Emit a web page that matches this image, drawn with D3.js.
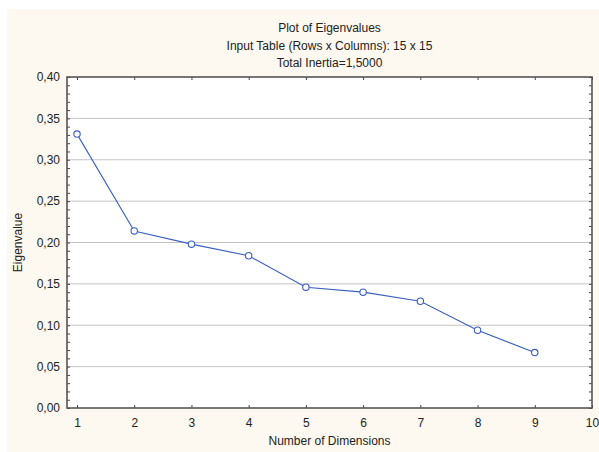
<!DOCTYPE html>
<html><head><meta charset="utf-8">
<script src="https://cdn.jsdelivr.net/npm/d3@7"></script>
<style>body{margin:0;background:#fff;} text{font-family:"Liberation Sans",Arial,sans-serif;fill:#222;}</style>
</head><body>
<svg id="c" width="599" height="452"></svg>
<script>
const dimensions = [1,2,3,4,5,6,7,8,9];
const eigenvalues = [0.331,0.214,0.198,0.184,0.146,0.140,0.129,0.094,0.067];
const xTicks = [1,2,3,4,5,6,7,8,9,10];
const yTicks = [0,0.05,0.10,0.15,0.20,0.25,0.30,0.35,0.40];
const titleLines = ["Plot of Eigenvalues","Input Table (Rows x Columns): 15 x 15","Total Inertia=1,5000"];

const svg = d3.select("#c");
svg.append("rect").attr("x",7).attr("y",9).attr("width",592).attr("height",443).attr("fill","#fdf9f0");
const L=67,R=592,T=77,B=408;
const x = d3.scaleLinear().domain([0.825,10]).range([L,R]);
const y = d3.scaleLinear().domain([0,0.4]).range([B,T]);
svg.append("rect").attr("x",L).attr("y",T).attr("width",R-L).attr("height",B-T).attr("fill","#fff");

// gridlines
svg.append("g").selectAll("line").data(yTicks.slice(1,-1)).join("line")
  .attr("x1",L).attr("x2",R).attr("y1",d=>y(d)).attr("y2",d=>y(d))
  .attr("stroke","#c4c4c4").attr("stroke-width",1);

const fmt = d=>d3.format(".2f")(d).replace(".",",");
const minor = d3.range(0,41).map(i=>i/100);
// left axis
const gl = svg.append("g").attr("transform",`translate(${L},0)`)
  .call(d3.axisLeft(y).tickValues(minor).tickSize(-3).tickFormat(""));
gl.selectAll("line").attr("stroke","#444");
gl.select(".domain").remove();
const glab = svg.append("g").attr("transform",`translate(${L},0)`)
  .call(d3.axisLeft(y).tickValues(yTicks).tickSize(0).tickPadding(7).tickFormat(fmt));
glab.select(".domain").remove();
glab.selectAll("text").attr("font-size",12).attr("fill","#222").attr("font-family","Liberation Sans, Arial, sans-serif");
// right axis
const gr = svg.append("g").attr("transform",`translate(${R},0)`)
  .call(d3.axisRight(y).tickValues(minor).tickSize(-3).tickFormat(""));
gr.selectAll("line").attr("stroke","#444"); gr.select(".domain").remove();
// bottom axis
const gb = svg.append("g").attr("transform",`translate(0,${B})`)
  .call(d3.axisBottom(x).tickValues(xTicks).tickSize(-3).tickPadding(10).tickFormat(d3.format("d")));
gb.select(".domain").remove();
gb.selectAll("line").attr("stroke","#444");
gb.selectAll("text").attr("font-size",12).attr("fill","#222").attr("font-family","Liberation Sans, Arial, sans-serif");
// top axis
const gt = svg.append("g").attr("transform",`translate(0,${T})`)
  .call(d3.axisTop(x).tickValues(xTicks).tickSize(-3).tickFormat(""));
gt.select(".domain").remove(); gt.selectAll("line").attr("stroke","#444");

// frame
svg.append("rect").attr("x",L).attr("y",T).attr("width",R-L).attr("height",B-T)
  .attr("fill","none").attr("stroke","#555").attr("stroke-width",1.6);

// line
const pts = dimensions.map((d,i)=>[d,eigenvalues[i]]);
svg.append("path").datum(pts).attr("fill","none").attr("stroke","#3a5fc0").attr("stroke-width",1.1)
  .attr("d",d3.line().x(d=>x(d[0])).y(d=>y(d[1])));
svg.append("g").selectAll("circle").data(pts).join("circle")
  .attr("cx",d=>x(d[0])).attr("cy",d=>y(d[1])).attr("r",3.2)
  .attr("fill","#fff").attr("stroke","#3a5fc0").attr("stroke-width",1.1);

// titles
svg.append("g").selectAll("text").data(titleLines).join("text")
  .attr("x",(L+R)/2).attr("y",(d,i)=>32+i*17.5).attr("text-anchor","middle").attr("font-size",12).text(d=>d);
svg.append("text").attr("x",(L+R)/2).attr("y",445).attr("text-anchor","middle").attr("font-size",12).text("Number of Dimensions");
svg.append("text").attr("transform",`translate(22,${(T+B)/2}) rotate(-90)`).attr("text-anchor","middle").attr("font-size",12).text("Eigenvalue");
</script>
</body></html>
